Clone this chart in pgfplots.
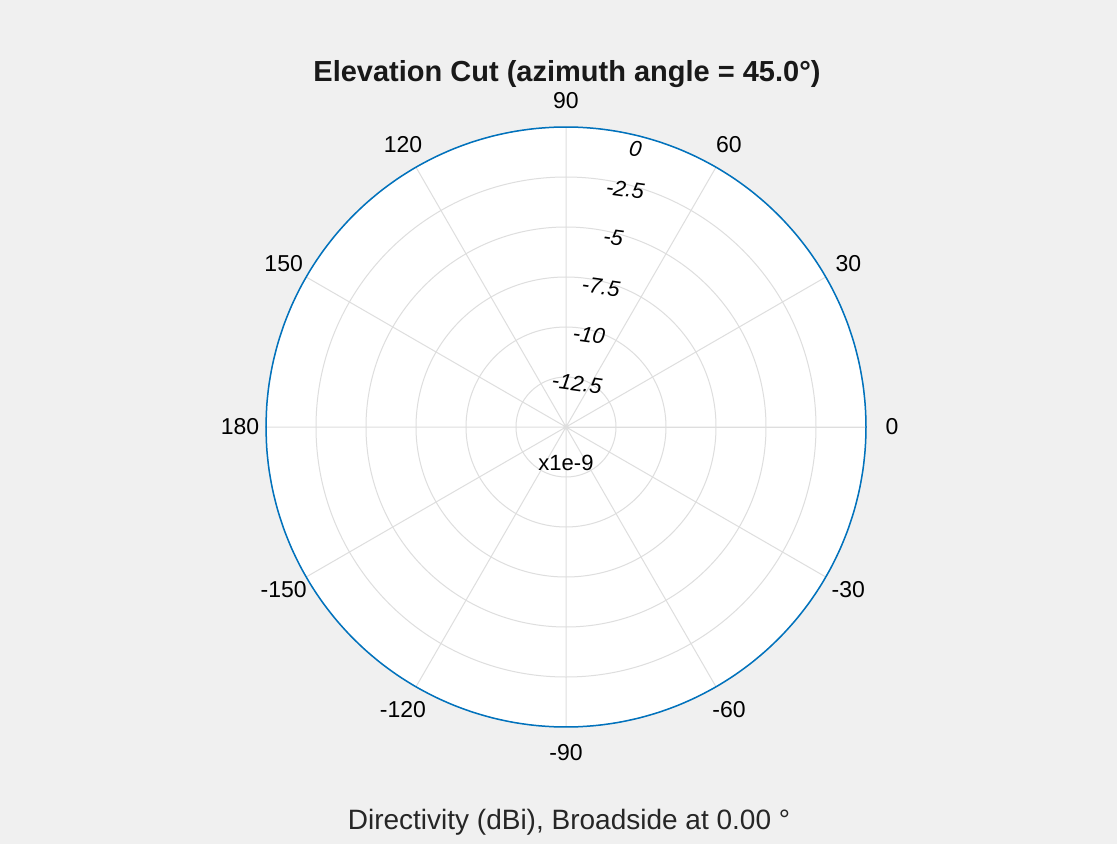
\documentclass[border=0pt]{standalone}
\usepackage{fontspec}
\setmainfont{Liberation Sans}
\usepackage{pgfplots}
\usepackage{pgfplotstable}
\pgfplotsset{compat=1.18}
\usepgfplotslibrary{polar}
\definecolor{bg}{RGB}{240,240,240}
\definecolor{gridc}{RGB}{222,222,222}
\definecolor{mblue}{RGB}{0,114,189}
\definecolor{txt}{RGB}{38,38,38}
\pgfplotstableread{
a d
-180 0
-176 0
-172 0
-168 0
-164 0
-160 0
-156 0
-152 0
-148 0
-144 0
-140 0
-136 0
-132 0
-128 0
-124 0
-120 0
-116 0
-112 0
-108 0
-104 0
-100 0
-96 0
-92 0
-88 0
-84 0
-80 0
-76 0
-72 0
-68 0
-64 0
-60 0
-56 0
-52 0
-48 0
-44 0
-40 0
-36 0
-32 0
-28 0
-24 0
-20 0
-16 0
-12 0
-8 0
-4 0
0 0
4 0
8 0
12 0
16 0
20 0
24 0
28 0
32 0
36 0
40 0
44 0
48 0
52 0
56 0
60 0
64 0
68 0
72 0
76 0
80 0
84 0
88 0
92 0
96 0
100 0
104 0
108 0
112 0
116 0
120 0
124 0
128 0
132 0
136 0
140 0
144 0
148 0
152 0
156 0
160 0
164 0
168 0
172 0
176 0
180 0
}\dirdata
\begin{document}
\begin{tikzpicture}[x=1pt,y=1pt]
\fill[bg] (0,0) rectangle (1117,844);
\begin{polaraxis}[
  at={(566pt,417pt)}, anchor=center,
  scale only axis, width=600pt, height=600pt,
  xmin=0, xmax=360, ymin=0, ymax=15,
  xtick={0,30,...,330},
  xticklabels={},
  ytick={2.5,5,7.5,10,12.5,15},
  yticklabels={},
  grid=major,
  major grid style={gridc, line width=1pt},
  axis line style={gridc, line width=1pt},
  axis background/.style={fill=white},
  major tick length=0pt,
  clip=false,
  every node/.append style={text=txt},
]
\addplot[mblue, line width=1.5pt, no markers, smooth] table[x=a, y expr=\thisrow{d}+15] {\dirdata};
\foreach \ang/\lab in {0/0,30/30,60/60,90/90,120/120,150/150,180/180,210/-150,240/-120,270/-90,300/-60,330/-30}{
  \edef\temp{\noexpand\node[font=\noexpand\fontsize{23}{23}\noexpand\selectfont, anchor=center] at (axis cs:\ang,16.3) {\lab};}
  \temp
}
\node[font=\fontsize{22}{22}\selectfont\itshape, rotate=-8] at (axis cs:76,14.35) {0};
\node[font=\fontsize{22}{22}\selectfont\itshape, rotate=-8] at (axis cs:76,12.25) {-2.5};
\node[font=\fontsize{22}{22}\selectfont\itshape, rotate=-8] at (axis cs:76,9.78) {-5};
\node[font=\fontsize{22}{22}\selectfont\itshape, rotate=-8] at (axis cs:76,7.22) {-7.5};
\node[font=\fontsize{22}{22}\selectfont\itshape, rotate=-8] at (axis cs:76,4.75) {-10};
\node[font=\fontsize{22}{22}\selectfont\itshape, rotate=-8] at (axis cs:76,2.25) {-12.5};
\node[font=\fontsize{22}{22}\selectfont] at (axis cs:270,1.8) {x1e-9};
\end{polaraxis}
\node[font=\fontsize{29}{29}\selectfont\bfseries, text=black!90] at (567,770) {Elevation Cut (azimuth angle = 45.0°)};
\node[font=\fontsize{28}{28}\selectfont, text=txt] at (569,22) {Directivity (dBi), Broadside at 0.00 °};
\end{tikzpicture}
\end{document}
